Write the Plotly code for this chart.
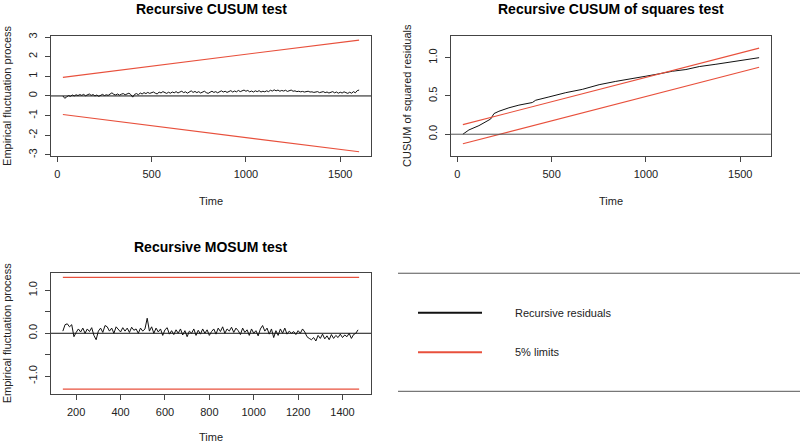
import plotly.graph_objects as go

# ---------------- data ----------------
cusum_time = list(range(30, 1601, 10))
cusum_values = [
    0.0, -0.12, -0.05, 0.02, -0.02, 0.05, 0.0, 0.06,
    0.02, 0.07, 0.03, 0.08, 0.01, 0.06, 0.1, 0.03, 0.07, 0.0,
    0.05, -0.02, 0.04, 0.08, 0.02, 0.06, 0.03, 0.1, 0.16, 0.08,
    0.05, 0.1, 0.04, 0.09, 0.12, 0.06, 0.1, 0.14, 0.07, -0.06,
    0.08, 0.12, 0.06, 0.15, 0.1, 0.17, 0.12, 0.18, 0.13, 0.17,
    0.2, 0.14, 0.1, 0.2, 0.15, 0.22, 0.16, 0.13, 0.19, 0.14,
    0.2, 0.16, 0.22, 0.15, 0.2, 0.24, 0.17, 0.21, 0.14, 0.2,
    0.26, 0.18, 0.23, 0.17, 0.22, 0.15, 0.2, 0.24, 0.17, 0.13,
    0.19, 0.24, 0.18, 0.22, 0.16, 0.21, 0.26, 0.2, 0.24, 0.18,
    0.23, 0.27, 0.2, 0.25, 0.21, 0.28, 0.22, 0.26, 0.3, 0.24,
    0.28, 0.21, 0.25, 0.2, 0.26, 0.22, 0.27, 0.2, 0.24, 0.21,
    0.26, 0.22, 0.29, 0.25, 0.31, 0.26, 0.3, 0.24, 0.28, 0.25,
    0.29, 0.23, 0.27, 0.3, 0.24, 0.26, 0.22, 0.24, 0.21, 0.23,
    0.2, 0.22, 0.24, 0.2, 0.21, 0.18, 0.2, 0.22, 0.17, 0.19,
    0.22, 0.17, 0.2, 0.15, 0.19, 0.22, 0.16, 0.2, 0.14, 0.19,
    0.15, 0.21, 0.17, 0.13, 0.19, 0.14, 0.22, 0.16, 0.27, 0.3,
]
cusum_bound_time = [30, 1600]
cusum_upper = [0.948, 2.844]
cusum_lower = [-0.948, -2.844]

sq_time = [30, 62, 115, 177, 195, 221, 274, 327, 398, 416, 486, 575, 663,
           752, 840, 929, 1000, 1070, 1141, 1212, 1283, 1371, 1459, 1600]
sq_values = [0.0, 0.056, 0.112, 0.198, 0.27, 0.30, 0.345, 0.38, 0.414, 0.444,
             0.487, 0.543, 0.586, 0.647, 0.69, 0.733, 0.758, 0.789, 0.823,
             0.845, 0.884, 0.914, 0.948, 1.0]
sq_bound_time = [30, 1600]
sq_upper = [0.125, 1.125]
sq_lower = [-0.125, 0.875]

mosum_time = list(range(140, 1471, 10))
mosum_values = [
    0.05, 0.2, 0.22, 0.15, 0.2, -0.08, 0.02, 0.1, 0.03, 0.12,
    0.0, 0.1, 0.04, 0.13, -0.05, -0.15, 0.05, 0.12, 0.02, 0.18,
    0.15, 0.05, 0.12, 0.0, 0.15, 0.08, 0.03, 0.13, 0.05, 0.12,
    0.02, 0.14, 0.07, 0.1, 0.0, 0.12, 0.05, 0.1, 0.35, 0.05,
    0.15, 0.0, 0.12, 0.03, 0.1, -0.05, 0.08, 0.13, -0.02, 0.06,
    -0.03, 0.08, 0.0, 0.1, -0.04, 0.06, -0.08, 0.05, 0.0, 0.1,
    -0.05, 0.07, -0.02, 0.1, 0.0, 0.08, -0.05, 0.04, 0.1, -0.02,
    0.12, 0.04, 0.15, 0.0, 0.1, 0.05, 0.14, 0.02, 0.12, 0.06,
    -0.03, 0.12, 0.02, 0.08, -0.05, 0.1, 0.0, 0.06, -0.06, 0.1,
    0.18, 0.05, 0.12, -0.02, 0.1, -0.1, 0.06, -0.05, 0.1, 0.0,
    0.12, -0.02, 0.05, 0.0, 0.04, -0.03, 0.06, 0.0, 0.1, 0.03,
    -0.08, -0.12, -0.15, -0.1, -0.18, -0.05, -0.12, -0.02, -0.13, -0.06,
    -0.15, -0.03, -0.12, -0.05, -0.1, -0.02, -0.1, -0.04, -0.08, 0.0,
    -0.12, -0.03, 0.0, 0.08,
]
mosum_bound_time = [140, 1475]
mosum_upper = [1.30, 1.30]
mosum_lower = [-1.30, -1.30]

titles = ["Recursive CUSUM test", "Recursive CUSUM of squares test", "Recursive MOSUM test"]
ytitles = ["Empirical fluctuation process", "CUSUM of squared residuals", "Empirical fluctuation process"]
legend_labels = ["Recursive residuals", "5% limits"]

cusum_xticks = [0, 500, 1000, 1500]
cusum_yticks = [-3, -2, -1, 0, 1, 2, 3]
cusum_ytext = ["-3", "-2", "-1", "0", "1", "2", "3"]
sq_yticks = [0.0, 0.5, 1.0]
sq_ytext = ["0.0", "0.5", "1.0"]
mosum_xticks = [200, 400, 600, 800, 1000, 1200, 1400]
mosum_yticks = [-1.0, -0.5, 0.0, 0.5, 1.0]
mosum_ytext = ["-1.0", "", "0.0", "", "1.0"]

# ---------------- style ----------------
W, H = 800, 447
FONT = "Liberation Sans, Arial, Helvetica, sans-serif"
RED = "#E8503C"
BLACK = "#111111"
BOX = "#444444"


def px_x(p):
    return p / W


def px_y(p):
    return 1 - p / H


fig = go.Figure()

# Panel 1
fig.add_trace(go.Scatter(x=cusum_time, y=cusum_values, mode="lines",
                         line=dict(color=BLACK, width=1), xaxis="x", yaxis="y"))
fig.add_trace(go.Scatter(x=cusum_bound_time, y=cusum_upper, mode="lines",
                         line=dict(color=RED, width=1.1), xaxis="x", yaxis="y"))
fig.add_trace(go.Scatter(x=cusum_bound_time, y=cusum_lower, mode="lines",
                         line=dict(color=RED, width=1.1), xaxis="x", yaxis="y"))
# Panel 2
fig.add_trace(go.Scatter(x=sq_time, y=sq_values, mode="lines",
                         line=dict(color=BLACK, width=1), xaxis="x2", yaxis="y2"))
fig.add_trace(go.Scatter(x=sq_bound_time, y=sq_upper, mode="lines",
                         line=dict(color=RED, width=1.1), xaxis="x2", yaxis="y2"))
fig.add_trace(go.Scatter(x=sq_bound_time, y=sq_lower, mode="lines",
                         line=dict(color=RED, width=1.1), xaxis="x2", yaxis="y2"))
# Panel 3
fig.add_trace(go.Scatter(x=mosum_time, y=mosum_values, mode="lines",
                         line=dict(color=BLACK, width=1), xaxis="x3", yaxis="y3"))
fig.add_trace(go.Scatter(x=mosum_bound_time, y=mosum_upper, mode="lines",
                         line=dict(color=RED, width=1.3), xaxis="x3", yaxis="y3"))
fig.add_trace(go.Scatter(x=mosum_bound_time, y=mosum_lower, mode="lines",
                         line=dict(color=RED, width=1.3), xaxis="x3", yaxis="y3"))


def xaxis(domain, rng, ticks, anchor):
    return dict(domain=domain, range=rng, tickvals=ticks,
                ticktext=[str(t) for t in ticks], anchor=anchor,
                showgrid=False, zeroline=False, showline=True, mirror=True,
                linecolor=BOX, linewidth=1, ticks="outside", ticklen=5,
                tickcolor=BOX, tickfont=dict(family=FONT, size=11, color="#222"),
                ticklabelstandoff=3, fixedrange=True)


def yaxis(domain, rng, ticks, text, anchor):
    return dict(domain=domain, range=rng, tickvals=ticks, ticktext=text,
                anchor=anchor, tickangle=-90,
                showgrid=False, zeroline=False, showline=True, mirror=True,
                linecolor=BOX, linewidth=1, ticks="outside", ticklen=5,
                tickcolor=BOX, tickfont=dict(family=FONT, size=11, color="#222"),
                ticklabelstandoff=4, fixedrange=True)


top_dom = [px_y(155), px_y(33)]
bot_dom = [px_y(395), px_y(273)]
left_dom = [px_x(51), px_x(371)]
right_dom = [px_x(451), px_x(771)]

fig.update_layout(
    width=W, height=H,
    margin=dict(l=0, r=0, t=0, b=0),
    paper_bgcolor="white", plot_bgcolor="white",
    showlegend=False,
    font=dict(family=FONT, color="#222"),
    xaxis=xaxis(left_dom, [-33, 1663], cusum_xticks, "y"),
    yaxis=yaxis(top_dom, [-3.072, 3.072], cusum_yticks, cusum_ytext, "x"),
    xaxis2=xaxis(right_dom, [-33, 1663], cusum_xticks, "y2"),
    yaxis2=yaxis(top_dom, [-0.288, 1.288], sq_yticks, sq_ytext, "x2"),
    xaxis3=xaxis(left_dom, [86.6, 1528.4], mosum_xticks, "y3"),
    yaxis3=yaxis(bot_dom, [-1.404, 1.404], mosum_yticks, mosum_ytext, "x3"),
)

# zero reference lines
ZERO = 0
for ax, col in (("", BLACK), ("2", "#555555"), ("3", BLACK)):
    fig.add_shape(type="line", xref=f"x{ax} domain", yref=f"y{ax}",
                  x0=0, x1=1, y0=ZERO, y1=ZERO, line=dict(color=col, width=1))

# titles and axis titles
centers = [(sum(left_dom) / 2, px_y(0)), (sum(right_dom) / 2, px_y(0))]
for (cx, cy), t in zip(centers, titles[:2]):
    fig.add_annotation(x=cx, y=cy, xref="paper", yref="paper", text=f"<b>{t}</b>",
                       showarrow=False, font=dict(family=FONT, size=14, color="black"),
                       xanchor="center", yanchor="top", borderpad=0, yshift=3)
fig.add_annotation(x=sum(left_dom) / 2, y=px_y(247), xref="paper", yref="paper",
                   text=f"<b>{titles[2]}</b>", showarrow=False,
                   font=dict(family=FONT, size=14, color="black"),
                   xanchor="center", yanchor="middle")
for cx, cy in [(sum(left_dom) / 2, px_y(200)), (sum(right_dom) / 2, px_y(200)),
               (sum(left_dom) / 2, px_y(439))]:
    fig.add_annotation(x=cx, y=cy, xref="paper", yref="paper", text="Time",
                       showarrow=False, font=dict(family=FONT, size=11, color="#222"),
                       xanchor="center", yanchor="middle")
for (cx, cy), t in zip([(px_x(7), sum(top_dom) / 2), (px_x(407), sum(top_dom) / 2),
                        (px_x(7), sum(bot_dom) / 2)], ytitles):
    fig.add_annotation(x=cx, y=cy, xref="paper", yref="paper", text=t, textangle=-90,
                       showarrow=False, font=dict(family=FONT, size=11, color="#222"),
                       xanchor="center", yanchor="middle")

# legend panel
for yy in (273.3, 392.7):
    fig.add_shape(type="line", xref="paper", yref="paper", x0=px_x(398), x1=1,
                  y0=px_y(yy), y1=px_y(yy), line=dict(color="#555555", width=1))
for yy, col, lab in ((313.3, BLACK, legend_labels[0]), (353.3, RED, legend_labels[1])):
    fig.add_shape(type="line", xref="paper", yref="paper", x0=px_x(418), x1=px_x(482),
                  y0=px_y(yy), y1=px_y(yy), line=dict(color=col, width=2))
    fig.add_annotation(x=px_x(513), y=px_y(yy), xref="paper", yref="paper", text=lab,
                       showarrow=False, font=dict(family=FONT, size=11, color="#222"),
                       xanchor="left", yanchor="middle")

fig.write_html("out.html", config={"displayModeBar": False},
               post_script="document.body.style.margin='0';document.body.style.padding='0';")
